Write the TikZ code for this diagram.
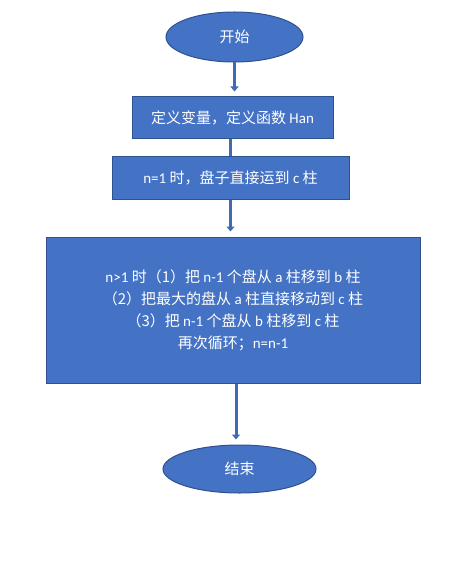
\documentclass[tikz,border=0pt]{standalone}
\usepackage{fontspec}
\setmainfont{Carlito}
\newfontfamily\cjk{Noto Sans CJK SC}
\newcommand{\cj}[1]{{\cjk #1}}
\usetikzlibrary{shapes.geometric,arrows.meta}
\definecolor{fillblue}{HTML}{4472C4}
\definecolor{edgeblue}{HTML}{2F528F}
\definecolor{linkblue}{HTML}{4169B4}
\tikzset{
  boxnode/.style={draw=edgeblue, line width=1pt, fill=fillblue, text=white, inner sep=0pt, font=\fontsize{15}{22}\selectfont, align=center},
  ovalnode/.style={ellipse, draw=edgeblue, line width=1pt, fill=fillblue, text=white, inner sep=0pt, font=\fontsize{15}{22}\selectfont},
  link/.style={draw=linkblue, line width=3pt},
  arrowlink/.style={link, -{Triangle[width=8pt,length=5pt]}, shorten >=5pt}
}
\begin{document}
\begin{tikzpicture}[x=1pt,y=-1pt]
\useasboundingbox (0,0) rectangle (456,572);
\node[ovalnode, minimum width=137pt, minimum height=50pt] (e1) at (234.5,37) {\cj{开始}};
\node[boxnode, minimum width=201pt, minimum height=42pt] (b1) at (232.5,118) {\cj{定义变量，定义函数} Han};
\node[boxnode, minimum width=237pt, minimum height=42pt] (b2) at (230.5,178) {n=1 \cj{时，盘子直接运到} c \cj{柱}};
\node[boxnode, minimum width=374pt, minimum height=146pt] (b3) at (233,310) {n>1 \cj{时（1）把} n-1 \cj{个盘从} a \cj{柱移到} b \cj{柱}\\
\cj{（2）把最大的盘从} a \cj{柱直接移动到} c \cj{柱}\\
\cj{（3）把} n-1 \cj{个盘从} b \cj{柱移到} c \cj{柱}\\
\cj{再次循环；}n=n-1};
\node[ovalnode, minimum width=153pt, minimum height=48pt] (e2) at (239.5,469) {\cj{结束}};
\draw[arrowlink] (e1.south) -- (e1.south |- b1.north);
\draw[link] (b1.south -| b2.center) -- (b2.north);
\draw[arrowlink] (b2.south) -- (b2.south |- b3.north);
\draw[arrowlink] ([xshift=3pt]b3.south) -- ([xshift=3pt]b3.south |- e2.north);
\end{tikzpicture}
\end{document}
